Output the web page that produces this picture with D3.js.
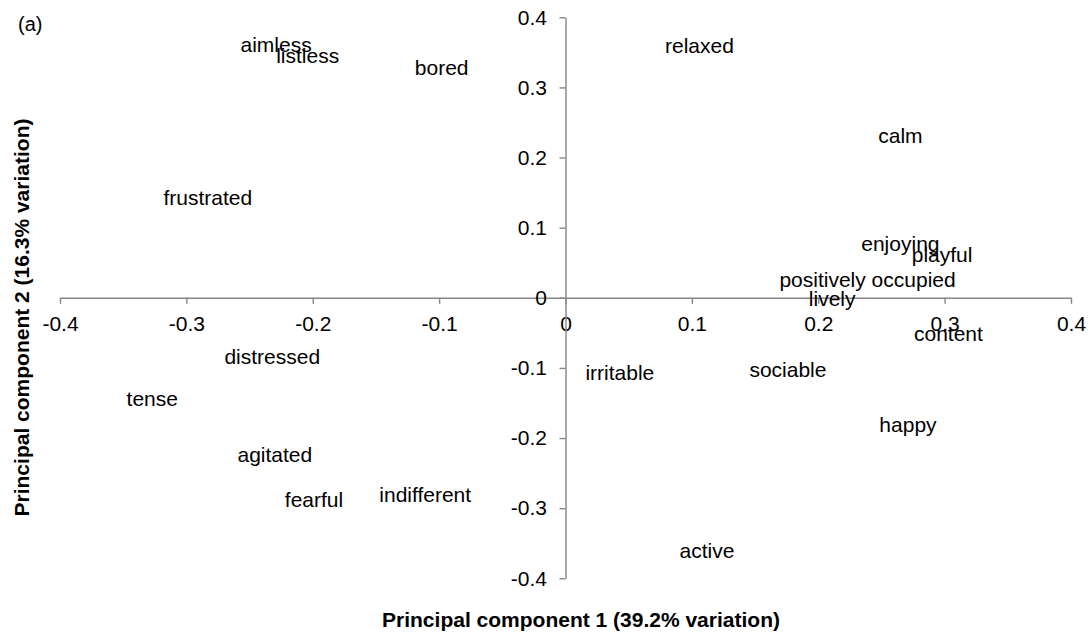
<!DOCTYPE html>
<html>
<head>
<meta charset="utf-8">
<script src="https://cdn.jsdelivr.net/npm/d3@7"></script>
<style>
  body { margin: 0; background: #fff; }
  svg text { font-family: "Liberation Sans", Arial, sans-serif; fill: #000; }
  .axis path, .axis line { stroke: #868686; stroke-width: 1.4; }
  .axis text { font-size: 21px; }
  .pc-label { font-size: 21px; }
  .axis-title { font-size: 21px; font-weight: bold; }
</style>
</head>
<body>
<svg id="chart" width="1088" height="635"></svg>
<script>
// mood words and their loadings on PC1 / PC2
const words = [ 'aimless', 'listless', 'bored', 'relaxed', 'calm', 'frustrated',
  'enjoying', 'playful', 'positively occupied', 'lively', 'content',
  'distressed', 'irritable', 'sociable', 'tense', 'happy',
  'agitated', 'fearful', 'indifferent', 'active' ]

const pc1 = [ -0.229, -0.204, -0.098, 0.106, 0.265, -0.283,
  0.265, 0.298, 0.239, 0.211, 0.303,
  -0.232, 0.043, 0.176, -0.327, 0.271,
  -0.230, -0.199, -0.111, 0.112 ]

const pc2 = [ 0.361, 0.346, 0.329, 0.360, 0.231, 0.143,
  0.078, 0.062, 0.026, -0.001, -0.051,
  -0.084, -0.106, -0.102, -0.144, -0.181,
  -0.224, -0.287, -0.280, -0.360 ]

const ticks = [ -0.4, -0.3, -0.2, -0.1, 0, 0.1, 0.2, 0.3, 0.4 ]

const svg = d3.select('#chart')

const xScale = d3.scaleLinear()
    .domain([ -0.4, 0.4 ])
    .range([ 60, 1071 ])

const yScale = d3.scaleLinear()
    .domain([ -0.4, 0.4 ])
    .range([ 578.3, 17.3 ])

// plain hyphen for negatives, like the original
const fmt = d => d === 0 ? '0' : d3.format('.1f')(d).replace('\u2212', '-')

svg.append('g')
    .attr('class', 'axis')
    .attr('transform', `translate(0,${yScale(0)})`)
    .call(d3.axisBottom(xScale).tickValues(ticks).tickFormat(fmt)
        .tickSize(6).tickSizeOuter(0).tickPadding(12.4))

svg.append('g')
    .attr('class', 'axis')
    .attr('transform', `translate(${xScale(0)},0)`)
    .call(d3.axisLeft(yScale).tickValues(ticks).tickFormat(fmt)
        .tickSize(6).tickSizeOuter(0).tickPadding(12.5))

svg.selectAll('.axis text').attr('font-family', null).attr('font-size', null)
svg.selectAll('.axis').attr('font-family', null).attr('font-size', null)

// data labels, centred on the loading
svg.selectAll('.pc-label')
    .data(words)
    .enter()
    .append('text')
    .attr('class', 'pc-label')
    .attr('x', (d, i) => xScale(pc1[i]))
    .attr('y', (d, i) => yScale(pc2[i]))
    .attr('dy', '0.36em')
    .attr('text-anchor', 'middle')
    .text(d => d)

svg.append('text')
    .attr('class', 'axis-title')
    .attr('x', 581)
    .attr('y', 627)
    .attr('text-anchor', 'middle')
    .text('Principal component 1 (39.2% variation)')

svg.append('text')
    .attr('class', 'axis-title')
    .attr('transform', 'translate(28.5,317.5) rotate(-90)')
    .attr('text-anchor', 'middle')
    .text('Principal component 2 (16.3% variation)')

svg.append('text')
    .attr('x', 18)
    .attr('y', 30.5)
    .style('font-size', '20px')
    .text('(a)')
</script>
</body>
</html>
